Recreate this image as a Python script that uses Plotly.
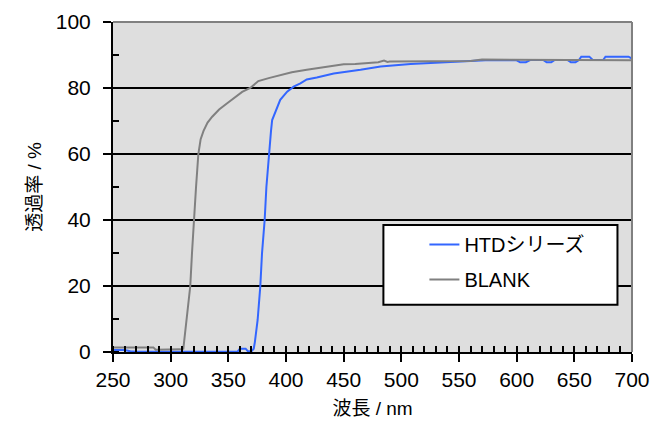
import plotly.graph_objects as go

# BLANK (gray) transmission
blank_wl = [250, 255, 260, 265, 270, 275, 280, 285, 287, 290, 295, 300, 305, 308, 311, 312, 314, 317,
            318.5, 320, 322, 324, 326, 328.5, 332, 336, 342, 349, 355, 362, 369, 372, 376, 385, 395,
            405, 418, 428, 438, 450, 460, 470, 480, 485, 488, 490, 496, 510, 520, 530, 540, 550, 560,
            570, 580, 590, 600, 610, 620, 630, 640, 650, 660, 670, 680, 690, 700]
blank_t = [1.4, 1.4, 1.4, 1.4, 1.4, 1.4, 1.4, 1.4, 0.7, 0.7, 0.7, 0.7, 0.7, 0.8, 1.0, 4, 10, 20,
           30, 40, 50, 60, 64.5, 67, 69.5, 71.3, 73.5, 75.4, 77, 78.8, 80, 81, 82.1, 83, 84,
           84.8, 85.5, 86.0, 86.4, 87.2, 87.3, 87.5, 87.8, 88.3, 87.9, 88.0, 88.0, 88.1, 88.1, 88.1, 88.1, 88.1, 88.2,
           88.6, 88.6, 88.6, 88.6, 88.6, 88.6, 88.6, 88.6, 88.6, 88.6, 88.6, 88.6, 88.5, 88.4]

# HTD series (blue) transmission
htd_wl = [250, 260, 265, 270, 300, 330, 355, 358, 360, 365, 367, 370, 372, 373, 375.4, 377.7, 379.2,
          381.5, 383, 385, 387, 388, 391.6, 395, 401, 406.6, 412.5, 418, 426.7, 441.4, 464.6, 482,
          508, 537, 560, 573, 590, 600, 603, 608, 612, 623, 626, 630, 633, 644, 647, 651, 654, 656,
          663, 666, 675, 677, 697, 700]
htd_t = [0.6, 0.6, 0.2, 0.1, 0.1, 0.1, 0.1, 0.1, 1.0, 1.0, 0.2, 0.2, 1, 3, 9.7, 19.8, 29.9,
         40, 50, 60, 67, 70.3, 73.3, 76.4, 78.9, 80.4, 81.4, 82.6, 83.2, 84.4, 85.5, 86.5,
         87.3, 87.8, 88.0, 88.4, 88.4, 88.4, 87.8, 87.8, 88.5, 88.5, 87.8, 87.8, 88.5, 88.5, 87.8, 87.8, 88.5, 89.5,
         89.5, 88.5, 88.5, 89.5, 89.5, 88.9]

x_ticks = [250, 300, 350, 400, 450, 500, 550, 600, 650, 700]
y_ticks = [0, 20, 40, 60, 80, 100]

FONT = "Liberation Sans, Arial, Noto Sans CJK JP"

fig = go.Figure()
fig.add_trace(go.Scatter(x=htd_wl, y=htd_t, mode="lines", name="HTDシリーズ",
                         line=dict(color="#3366FF", width=2), legendgroup="a"))
fig.add_trace(go.Scatter(x=blank_wl, y=blank_t, mode="lines", name="BLANK",
                         line=dict(color="#808080", width=2), legendgroup="b"))

fig.update_layout(
    width=656, height=425,
    margin=dict(l=113, r=24, t=22, b=73),
    paper_bgcolor="white",
    plot_bgcolor="#DEDEDE",
    font=dict(family=FONT, size=20, color="black"),
    showlegend=True,
    legend=dict(x=0.60, y=0.385, xanchor="left", yanchor="top",
                bgcolor="rgba(0,0,0,0)", borderwidth=0,
                font=dict(size=20), tracegroupgap=6),
    shapes=[
        dict(type="rect", xref="x domain", yref="y domain", x0=0.521, x1=0.972, y0=0.143, y1=0.385,
             line=dict(color="black", width=2), fillcolor="white", layer="above"),
        dict(type="line", xref="x domain", yref="y domain", x0=0, x1=1, y0=1, y1=1,
             line=dict(color="#808080", width=2), layer="above"),
        dict(type="line", xref="x domain", yref="y domain", x0=1, x1=1, y0=0, y1=1,
             line=dict(color="#808080", width=2), layer="above"),
    ],
)

fig.update_xaxes(
    range=[250, 700], tickvals=x_ticks, ticktext=[str(v) for v in x_ticks],
    automargin=False,
    showgrid=False, zeroline=False,
    showline=True, linecolor="black", linewidth=2,
    ticks="outside", ticklen=8, tickwidth=1.5, tickcolor="black",
    minor=dict(dtick=10, tick0=250, ticks="inside", ticklen=6, tickwidth=1.5, tickcolor="black", showgrid=False),
    tickfont=dict(size=21),
    title=dict(text="波長 / nm", font=dict(size=19), standoff=11),
)
fig.update_yaxes(
    range=[0, 100], tickvals=y_ticks, ticktext=[str(v) for v in y_ticks],
    automargin=False,
    showgrid=True, gridcolor="black", gridwidth=2, zeroline=False,
    showline=True, linecolor="black", linewidth=2,
    ticks="outside", ticklen=8, tickwidth=1.5, tickcolor="black",
    minor=dict(dtick=10, tick0=0, ticks="inside", ticklen=6, tickwidth=1.5, tickcolor="black", showgrid=False),
    tickfont=dict(size=21), ticklabelstandoff=8,
    title=dict(text="透過率 / %", font=dict(size=19), standoff=9),
)

fig.write_html("out.html", config={"displayModeBar": False},
               post_script="document.body.style.margin='0px';")
